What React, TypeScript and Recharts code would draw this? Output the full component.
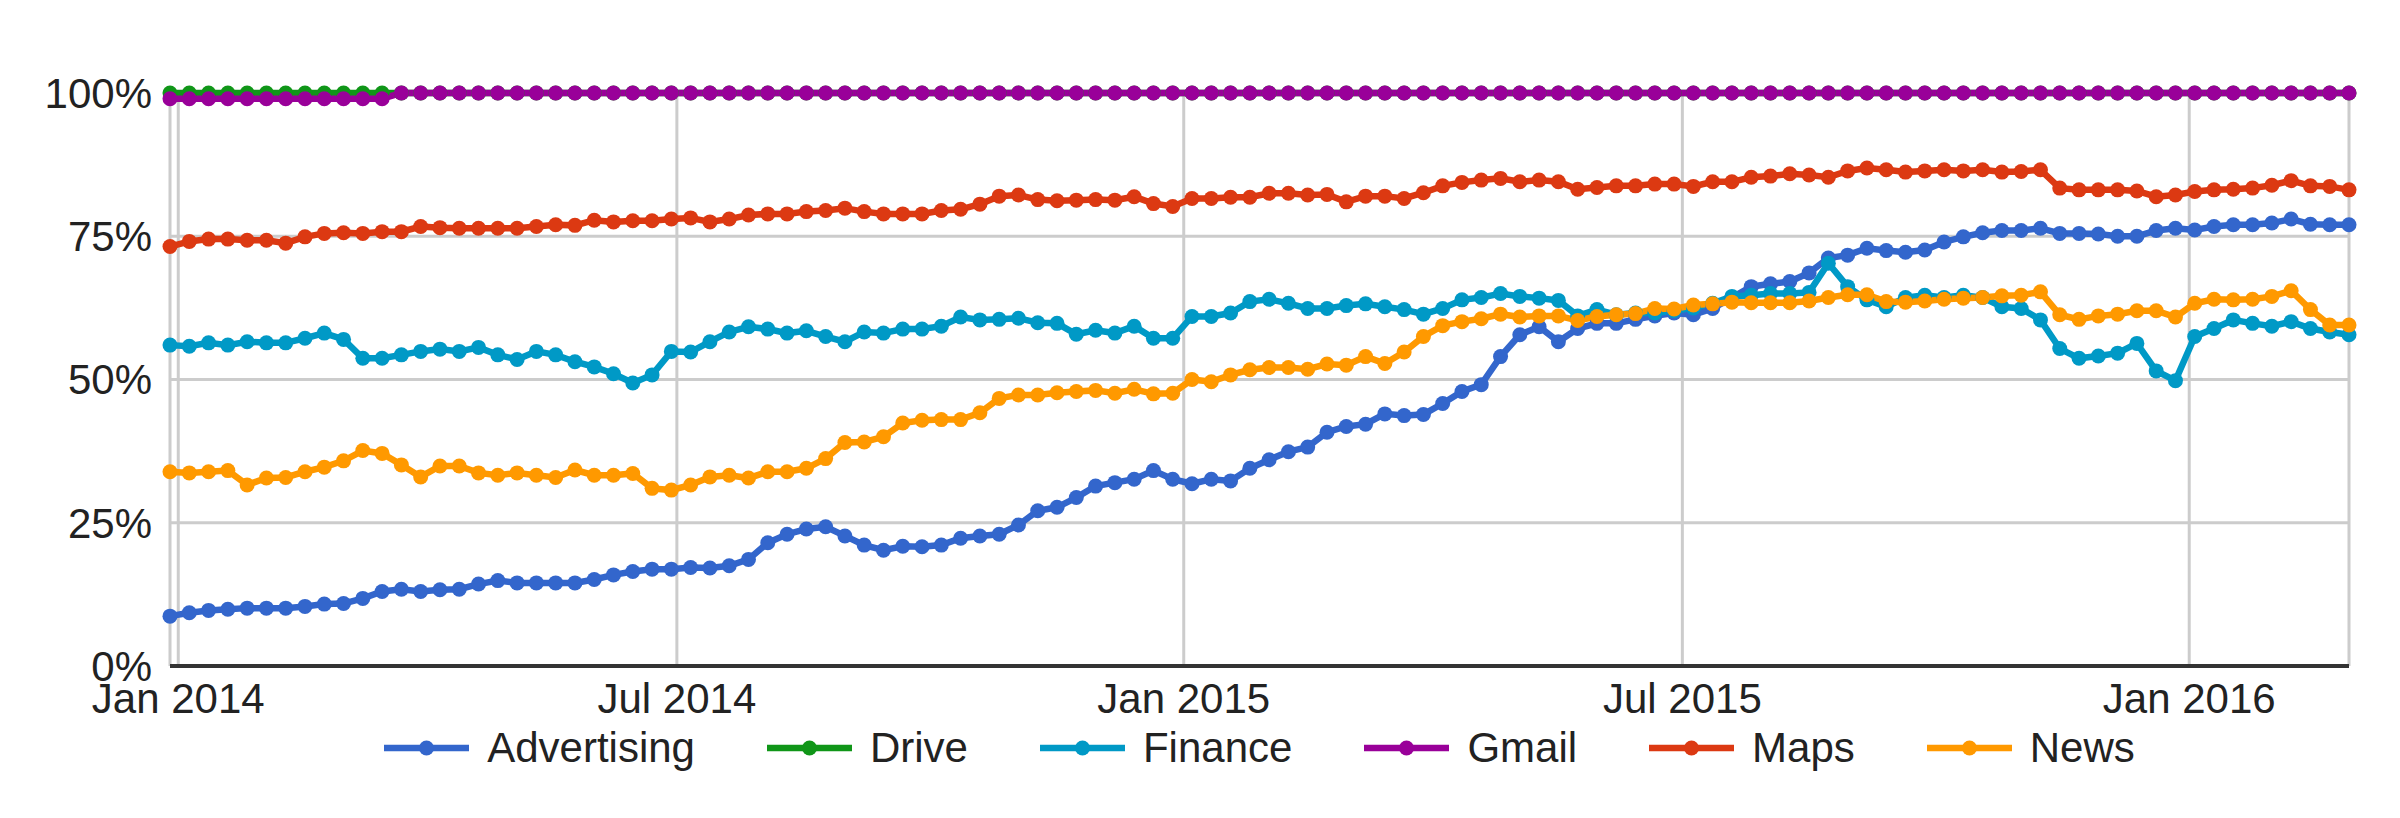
import React from 'react';
import {
  LineChart,
  Line,
  XAxis,
  YAxis,
  CartesianGrid,
  Legend,
} from 'recharts';

// weekly points, first week starts Sun 29 Dec 2013
const firstWeek = Date.UTC(2013, 11, 29);
const WEEK_MS = 7 * 24 * 3600 * 1000;

const tickTimes = [
  Date.UTC(2014, 0, 1),
  Date.UTC(2014, 6, 1),
  Date.UTC(2015, 0, 1),
  Date.UTC(2015, 6, 1),
  Date.UTC(2016, 0, 1),
];
const tickLabels = ['Jan 2014', 'Jul 2014', 'Jan 2015', 'Jul 2015', 'Jan 2016'];
const yTicks = [0, 25, 50, 75, 100];

const advertising = [
  8.7, 9.3, 9.7, 9.9, 10.1, 10.1, 10.1, 10.4, 10.8, 10.9,
  11.8, 13.0, 13.4, 13.0, 13.3, 13.4, 14.3, 14.9, 14.5, 14.5,
  14.5, 14.5, 15.1, 15.9, 16.5, 16.9, 16.9, 17.2, 17.1, 17.5,
  18.6, 21.5, 23.0, 23.9, 24.3, 22.7, 21.1, 20.2, 20.9, 20.8,
  21.1, 22.3, 22.7, 23.0, 24.6, 27.1, 27.7, 29.4, 31.4, 32.0,
  32.6, 34.1, 32.6, 31.8, 32.6, 32.3, 34.5, 36.0, 37.4, 38.2,
  40.8, 41.8, 42.2, 44.0, 43.7, 43.9, 45.8, 47.9, 49.1, 54.0,
  57.8, 59.2, 56.6, 58.9, 59.8, 59.8, 60.5, 61.1, 61.6, 61.3,
  62.4, 64.3, 66.2, 66.7, 67.1, 68.6, 71.2, 71.7, 72.9, 72.5,
  72.2, 72.6, 74.0, 74.9, 75.6, 76.0, 76.0, 76.4, 75.5, 75.5,
  75.4, 75.0, 75.0, 76.0, 76.4, 76.1, 76.7, 77.0, 77.0, 77.3,
  78.0, 77.1, 77.0, 77.0,
];

const drive = [
  100, 100, 100, 100, 100, 100, 100, 100, 100, 100,
  100, 100, 100, 100, 100, 100, 100, 100, 100, 100,
  100, 100, 100, 100, 100, 100, 100, 100, 100, 100,
  100, 100, 100, 100, 100, 100, 100, 100, 100, 100,
  100, 100, 100, 100, 100, 100, 100, 100, 100, 100,
  100, 100, 100, 100, 100, 100, 100, 100, 100, 100,
  100, 100, 100, 100, 100, 100, 100, 100, 100, 100,
  100, 100, 100, 100, 100, 100, 100, 100, 100, 100,
  100, 100, 100, 100, 100, 100, 100, 100, 100, 100,
  100, 100, 100, 100, 100, 100, 100, 100, 100, 100,
  100, 100, 100, 100, 100, 100, 100, 100, 100, 100,
  100, 100, 100, 100,
];

const finance = [
  56.0, 55.8, 56.4, 56.0, 56.6, 56.4, 56.4, 57.2, 58.1, 57.0,
  53.7, 53.7, 54.3, 54.9, 55.3, 54.9, 55.6, 54.3, 53.5, 54.9,
  54.3, 53.1, 52.2, 51.0, 49.4, 50.8, 54.9, 54.8, 56.6, 58.3,
  59.2, 58.8, 58.1, 58.5, 57.5, 56.6, 58.3, 58.1, 58.8, 58.8,
  59.3, 60.9, 60.4, 60.5, 60.7, 59.9, 59.8, 57.9, 58.6, 58.1,
  59.3, 57.2, 57.2, 61.0, 61.0, 61.6, 63.6, 64.0, 63.3, 62.4,
  62.4, 62.9, 63.2, 62.7, 62.2, 61.4, 62.4, 63.9, 64.3, 65.0,
  64.5, 64.2, 63.8, 61.1, 62.2, 61.3, 61.6, 61.6, 62.0, 62.5,
  63.3, 64.5, 64.7, 65.0, 65.0, 65.2, 70.3, 66.2, 63.9, 62.7,
  64.3, 64.7, 64.3, 64.7, 64.3, 62.7, 62.4, 60.4, 55.4, 53.7,
  54.1, 54.6, 56.3, 51.5, 49.8, 57.5, 58.9, 60.4, 59.8, 59.3,
  60.1, 58.9, 58.3, 57.8,
];

const gmail = [
  99, 99, 99, 99, 99, 99, 99, 99, 99, 99,
  99, 99, 100, 100, 100, 100, 100, 100, 100, 100,
  100, 100, 100, 100, 100, 100, 100, 100, 100, 100,
  100, 100, 100, 100, 100, 100, 100, 100, 100, 100,
  100, 100, 100, 100, 100, 100, 100, 100, 100, 100,
  100, 100, 100, 100, 100, 100, 100, 100, 100, 100,
  100, 100, 100, 100, 100, 100, 100, 100, 100, 100,
  100, 100, 100, 100, 100, 100, 100, 100, 100, 100,
  100, 100, 100, 100, 100, 100, 100, 100, 100, 100,
  100, 100, 100, 100, 100, 100, 100, 100, 100, 100,
  100, 100, 100, 100, 100, 100, 100, 100, 100, 100,
  100, 100, 100, 100,
];

const maps = [
  73.2, 74.1, 74.5, 74.5, 74.3, 74.3, 73.8, 74.9, 75.5, 75.6,
  75.5, 75.8, 75.8, 76.7, 76.5, 76.4, 76.4, 76.4, 76.4, 76.7,
  77.0, 76.9, 77.8, 77.5, 77.7, 77.7, 78.0, 78.2, 77.5, 78.0,
  78.7, 78.9, 78.9, 79.3, 79.5, 79.9, 79.3, 78.9, 78.9, 78.9,
  79.5, 79.7, 80.6, 82.0, 82.2, 81.4, 81.2, 81.3, 81.4, 81.3,
  81.9, 80.7, 80.2, 81.6, 81.6, 81.8, 81.8, 82.5, 82.5, 82.2,
  82.3, 81.0, 82.0, 82.0, 81.6, 82.6, 83.8, 84.4, 84.8, 85.1,
  84.5, 84.8, 84.5, 83.2, 83.5, 83.8, 83.8, 84.1, 84.1, 83.7,
  84.5, 84.5, 85.3, 85.5, 85.9, 85.7, 85.3, 86.4, 86.9, 86.6,
  86.2, 86.4, 86.6, 86.4, 86.6, 86.2, 86.3, 86.6, 83.4, 83.1,
  83.1, 83.1, 82.9, 81.9, 82.2, 82.8, 83.1, 83.2, 83.4, 83.9,
  84.7, 83.8, 83.7, 83.1,
];

const news = [
  33.9, 33.7, 33.9, 34.1, 31.6, 32.8, 32.9, 33.9, 34.7, 35.8,
  37.6, 37.1, 35.1, 33.0, 34.9, 34.9, 33.7, 33.3, 33.7, 33.3,
  32.9, 34.2, 33.3, 33.3, 33.6, 31.0, 30.7, 31.6, 33.0, 33.3,
  32.8, 33.9, 33.9, 34.5, 36.2, 39.0, 39.1, 40.0, 42.4, 42.9,
  43.0, 43.0, 44.2, 46.7, 47.3, 47.3, 47.7, 47.9, 48.1, 47.6,
  48.3, 47.5, 47.6, 50.0, 49.6, 50.8, 51.7, 52.1, 52.1, 51.8,
  52.7, 52.5, 54.0, 52.8, 54.8, 57.5, 59.4, 60.1, 60.6, 61.4,
  60.9, 61.1, 61.1, 60.3, 61.0, 61.3, 61.5, 62.4, 62.3, 63.0,
  63.2, 63.5, 63.4, 63.4, 63.4, 63.7, 64.3, 64.8, 64.8, 63.6,
  63.5, 63.7, 64.0, 64.2, 64.3, 64.6, 64.7, 65.3, 61.3, 60.5,
  61.1, 61.4, 62.0, 62.0, 60.9, 63.3, 64.0, 63.9, 64.0, 64.5,
  65.5, 62.2, 59.5, 59.5,
];

const seriesConfig = [
  { key: 'Advertising', values: advertising, color: '#3366cc' },
  { key: 'Drive', values: drive, color: '#109618' },
  { key: 'Finance', values: finance, color: '#0099c6' },
  { key: 'Gmail', values: gmail, color: '#990099' },
  { key: 'Maps', values: maps, color: '#dc3912' },
  { key: 'News', values: news, color: '#ff9900' },
];

const data = advertising.map((_, i) => {
  const row: Record<string, number> = { t: firstWeek + i * WEEK_MS };
  seriesConfig.forEach((s) => {
    row[s.key] = s.values[i];
  });
  return row;
});

const FONT = "'Liberation Sans', Arial, sans-serif";

const renderLegend = () => (
  <div
    style={{
      display: 'flex',
      justifyContent: 'center',
      alignItems: 'center',
      height: 50,
      fontFamily: FONT,
      fontSize: 42,
      color: '#222',
    }}
  >
    {seriesConfig.map((s, idx) => (
      <div
        key={s.key}
        style={{ display: 'flex', alignItems: 'center', marginLeft: idx ? 72 : 0 }}
      >
        <svg width={85} height={20}>
          <line x1={0} y1={10} x2={85} y2={10} stroke={s.color} strokeWidth={6.5} />
          <circle cx={42.5} cy={10} r={7.5} fill={s.color} />
        </svg>
        <span style={{ marginLeft: 18 }}>{s.key}</span>
      </div>
    ))}
  </div>
);

export default function App() {
  return (
    <div style={{ position: 'absolute', left: 0, top: 0, background: '#fff' }}>
      <LineChart
        width={2400}
        height={818}
        data={data}
        margin={{ top: 93, right: 51, left: 0, bottom: 42 }}
      >
        <CartesianGrid stroke="#cccccc" strokeWidth={3} />
        <XAxis
          dataKey="t"
          type="number"
          domain={['dataMin', 'dataMax']}
          ticks={tickTimes}
          interval={0}
          tickFormatter={(v) => tickLabels[tickTimes.indexOf(v)] ?? ''}
          tickLine={false}
          tickSize={0}
          tickMargin={17}
          height={60}
          axisLine={{ stroke: '#333', strokeWidth: 4 }}
          tick={{ fontSize: 42, fill: '#222', fontFamily: FONT }}
        />
        <YAxis
          domain={[0, 100]}
          ticks={yTicks}
          interval={0}
          tickFormatter={(v) => `${v}%`}
          width={170}
          tickLine={false}
          tickSize={0}
          tickMargin={18}
          axisLine={false}
          tick={{ fontSize: 42, fill: '#222', fontFamily: FONT }}
        />
        <Legend
          verticalAlign="bottom"
          content={renderLegend}
          wrapperStyle={{ left: 170, width: 2179, top: 723, bottom: 'auto' }}
        />
        {seriesConfig.map((s) => (
          <Line
            key={s.key}
            type="linear"
            dataKey={s.key}
            stroke={s.color}
            strokeWidth={6.5}
            dot={{ r: 7.5, fill: s.color, stroke: 'none' }}
            activeDot={false}
            isAnimationActive={false}
          />
        ))}
      </LineChart>
    </div>
  );
}
